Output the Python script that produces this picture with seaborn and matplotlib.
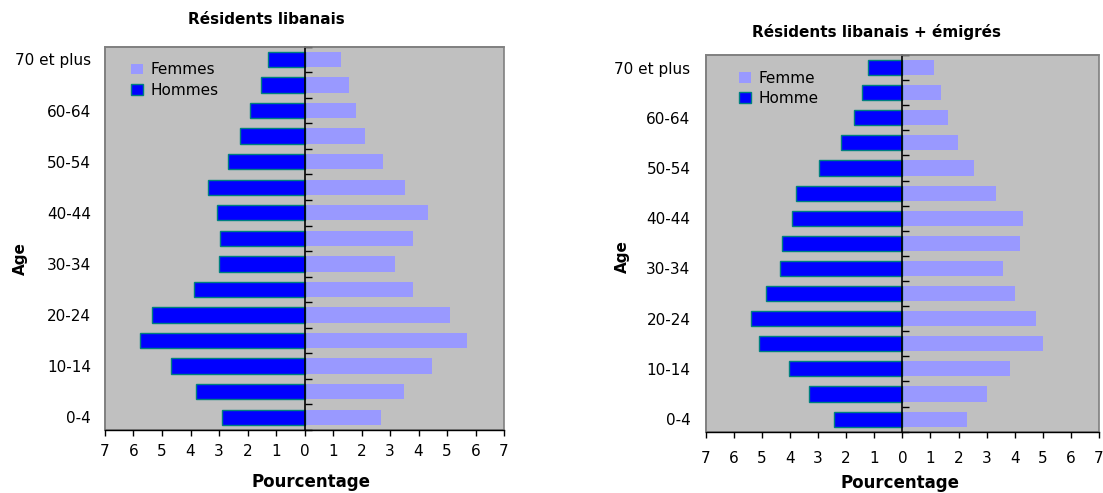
import matplotlib
matplotlib.use("Agg")
import matplotlib.pyplot as plt
import numpy as np
import pandas as pd
import seaborn as sns

plt.rcParams["font.family"] = ["DejaVu Sans"]

# Age groups, listed from the oldest (top) to the youngest (bottom)
ages = ["70 et plus", "65-69", "60-64", "55-59", "50-54", "45-49", "40-44",
        "35-39", "30-34", "25-29", "20-24", "15-19", "10-14", "5-9", "0-4"]
labelled_ages = ["70 et plus", "60-64", "50-54", "40-44", "30-34", "20-24", "10-14", "0-4"]

# Résidents libanais (% of population)
res_hommes = [1.29, 1.52, 1.90, 2.27, 2.70, 3.38, 3.08, 2.95, 3.01, 3.87, 5.35, 5.78, 4.67, 3.81, 2.88]
res_femmes = [1.28, 1.57, 1.82, 2.13, 2.75, 3.54, 4.35, 3.79, 3.18, 3.79, 5.09, 5.70, 4.47, 3.48, 2.70]

# Résidents libanais + émigrés (% of population)
emi_hommes = [1.23, 1.42, 1.73, 2.20, 2.95, 3.80, 3.93, 4.29, 4.36, 4.85, 5.39, 5.09, 4.05, 3.32, 2.45]
emi_femmes = [1.13, 1.37, 1.62, 1.99, 2.54, 3.33, 4.31, 4.18, 3.58, 4.00, 4.74, 4.99, 3.83, 3.02, 2.30]

x_ticks = list(range(-7, 8))
x_labels = [str(abs(t)) for t in x_ticks]

BG = "#C0C0C0"
MEN = "#0000FF"
MEN_EDGE = "#008080"
WOMEN = "#9999FF"
FRAME = "#808080"

fig = plt.figure(figsize=(11.03, 4.93), dpi=100)
fig.patch.set_facecolor("white")


def pyramid(ax, hommes, femmes, lab_f, lab_h, legend_anchor, xpad, ypad, ylab_pos, xlab_pos):
    df = pd.DataFrame({"age": ages,
                       "hommes": -np.asarray(hommes),
                       "femmes": np.asarray(femmes)})
    sns.barplot(data=df, x="femmes", y="age", order=ages, orient="h",
                color=WOMEN, saturation=1, width=0.6, linewidth=0,
                label=lab_f, ax=ax)
    sns.barplot(data=df, x="hommes", y="age", order=ages, orient="h",
                color=MEN, saturation=1, width=0.6, edgecolor=MEN_EDGE,
                linewidth=1.0, label=lab_h, ax=ax)
    ax.set_facecolor(BG)
    ax.set_xlim(-7, 7)
    ax.set_ylim(len(ages) - 0.5, -0.5)

    # x axis
    ax.set_xticks(x_ticks, labels=x_labels)
    ax.tick_params(axis="x", direction="out", length=4, width=1, pad=xpad,
                   labelsize=11, color="black")
    ax.set_xlabel("Pourcentage", fontsize=12, fontweight="bold", va="center")
    ax.xaxis.set_label_coords(*xlab_pos)

    # category labels on the left, boundary ticks on the zero line
    ax.set_yticks([ages.index(a) for a in labelled_ages], labels=labelled_ages)
    ax.set_yticks(np.arange(-0.5, len(ages)), minor=True)
    ax.tick_params(axis="y", which="major", left=True, right=False, length=0,
                   pad=ypad, labelsize=11)
    ax.tick_params(axis="y", which="minor", left=False, right=True,
                   direction="out", length=5, width=1, color="black")
    ax.set_ylabel("Age", fontsize=11, fontweight="bold", va="center")
    ax.yaxis.set_label_coords(*ylab_pos)

    ax.spines["right"].set_position(("data", 0))
    ax.spines["right"].set_color("black")
    ax.spines["right"].set_linewidth(1.2)
    ax.spines["bottom"].set_color("black")
    ax.spines["bottom"].set_linewidth(1)
    for s in ("left", "top"):
        ax.spines[s].set_color(FRAME)
        ax.spines[s].set_linewidth(1.2)
    ax.patch.set_edgecolor(FRAME)
    ax.patch.set_linewidth(1.2)

    handles, labels = ax.get_legend_handles_labels()
    ax.legend(handles, labels, loc="upper left", bbox_to_anchor=legend_anchor,
              frameon=False, fontsize=11, handlelength=0.8, handleheight=0.7,
              handletextpad=0.5, labelspacing=0.35, borderaxespad=0)


ax1 = fig.add_axes([105 / 1103, 1 - 430 / 493, 399 / 1103, 383.3 / 493])
pyramid(ax1, res_hommes, res_femmes, "Femmes", "Hommes",
        legend_anchor=(0.05, 0.975), xpad=6, ypad=10,
        ylab_pos=(-0.213, 0.446), xlab_pos=(0.516, -0.136))

ax2 = fig.add_axes([705.7 / 1103, 1 - 431.7 / 493, 393.3 / 1103, 376.7 / 493])
pyramid(ax2, emi_hommes, emi_femmes, "Femme", "Homme",
        legend_anchor=(0.068, 0.975), xpad=10, ypad=11,
        ylab_pos=(-0.213, 0.464), xlab_pos=(0.494, -0.136))

fig.text(266 / 1103, 1 - 20 / 493, "Résidents libanais", ha="center", va="center",
         fontsize=11, fontweight="bold")
fig.text(877 / 1103, 1 - 32 / 493, "Résidents libanais + émigrés", ha="center",
         va="center", fontsize=11, fontweight="bold")

fig.savefig("out.png", dpi=100)
